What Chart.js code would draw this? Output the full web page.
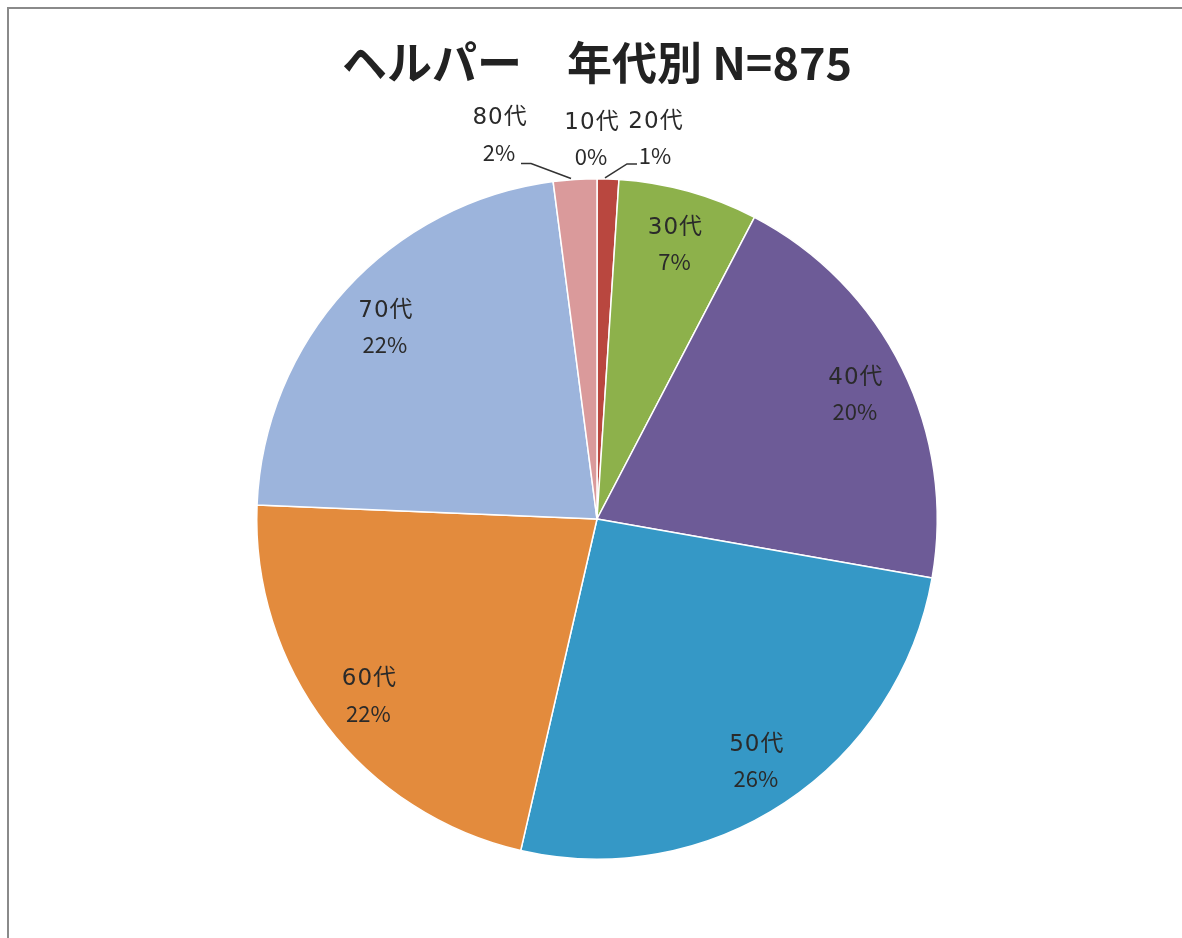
<!DOCTYPE html>
<html>
<head>
<meta charset="utf-8">
<script src="https://cdn.jsdelivr.net/npm/chart.js@4/dist/chart.umd.min.js"></script>
<style>
  html, body { margin: 0; padding: 0; background: #fff; }
  #wrap { position: relative; width: 1182px; height: 938px; }
</style>
</head>
<body>
<div id="wrap"><canvas id="pie-chart" width="1182" height="938"></canvas></div>
<script>
// Chart data
var titleText = "ヘルパー　年代別 N=875";
var ageGroups = ["10代", "20代", "30代", "40代", "50代", "60代", "70代", "80代"];
var counts = [0, 9, 58, 176, 226, 193, 195, 18];
var sliceColors = ["#4F81BD", "#B9473F", "#8DB14B", "#6D5B97", "#3598C6", "#E38B3D", "#9CB4DC", "#DA9A9B"];

var total = counts.reduce(function(a, b) { return a + b; }, 0);

// labels drawn outside the pie for the tiny slices (offset from the arc edge)
var outsideLabels = {
    0: { dx: -6, dy: -39, line: null },
    1: { dx: 47, dy: -40, line: [[-3, -1], [19, -15], [29, -15]] },
    7: { dx: -76, dy: -44, line: [[-4, -1], [-44, -16], [-54, -16]] }
};

var labelPlugin = {
    id: "pieLabels",
    beforeDraw: function(chart) {
        var c = chart.ctx;
        c.save();
        c.fillStyle = "#fff";
        c.fillRect(0, 0, chart.width, chart.height);
        // frame (left and top edges only)
        c.strokeStyle = "#8a8a8a";
        c.lineWidth = 2;
        c.beginPath();
        c.moveTo(8, chart.height);
        c.lineTo(8, 8);
        c.lineTo(chart.width, 8);
        c.stroke();
        // title
        c.fillStyle = "#222";
        c.font = "bold 45px 'Noto Sans CJK JP', sans-serif";
        c.textAlign = "center";
        c.textBaseline = "middle";
        c.fillText(titleText, 597, 63);
        c.restore();
    },
    afterDatasetsDraw: function(chart) {
        var c = chart.ctx;
        var meta = chart.getDatasetMeta(0);
        c.save();
        c.textAlign = "center";
        c.textBaseline = "middle";
        meta.data.forEach(function(arc, i) {
            var p = arc.getProps(["x", "y", "startAngle", "endAngle", "outerRadius"], true);
            var mid = (p.startAngle + p.endAngle) / 2;
            var pct = Math.round(counts[i] / total * 100) + "%";
            var lx, ly;
            if (outsideLabels[i]) {
                var o = outsideLabels[i];
                var ex = p.x + Math.cos(mid) * p.outerRadius;
                var ey = p.y + Math.sin(mid) * p.outerRadius;
                lx = ex + o.dx;
                ly = ey + o.dy;
                if (o.line) {
                    c.strokeStyle = "#333";
                    c.lineWidth = 1.6;
                    c.beginPath();
                    o.line.forEach(function(pt, k) {
                        if (k === 0) c.moveTo(ex + pt[0], ey + pt[1]);
                        else c.lineTo(ex + pt[0], ey + pt[1]);
                    });
                    c.stroke();
                }
            } else {
                var r = p.outerRadius * 0.845;
                lx = p.x + Math.cos(mid) * r;
                ly = p.y + Math.sin(mid) * r + 3;
            }
            c.fillStyle = "#2a2a2a";
            c.font = "23px 'DejaVu Sans', 'Noto Sans CJK JP', sans-serif";
            c.letterSpacing = "1px";
            c.fillText(ageGroups[i], lx + 1, ly - 17);
            c.font = "22px 'Noto Sans CJK JP', sans-serif";
            c.letterSpacing = "0px";
            c.fillText(pct, lx, ly + 17);
        });
        c.restore();
    }
};

var ctx = document.getElementById("pie-chart");

var chartData = {
    labels: ageGroups,
    datasets: [{
        data: counts,
        backgroundColor: sliceColors,
        borderColor: "#ffffff",
        borderWidth: 1.5
    }]
};

var config = {
    type: "pie",
    data: chartData,
    options: {
        responsive: false,
        animation: false,
        layout: { padding: { left: 256, right: 244, top: 178, bottom: 78 } },
        plugins: {
            legend: { display: false },
            title: { display: false },
            tooltip: { enabled: false }
        }
    },
    plugins: [labelPlugin]
};

// Create the chart
var pieChart = new Chart(ctx, config);
</script>
</body>
</html>
